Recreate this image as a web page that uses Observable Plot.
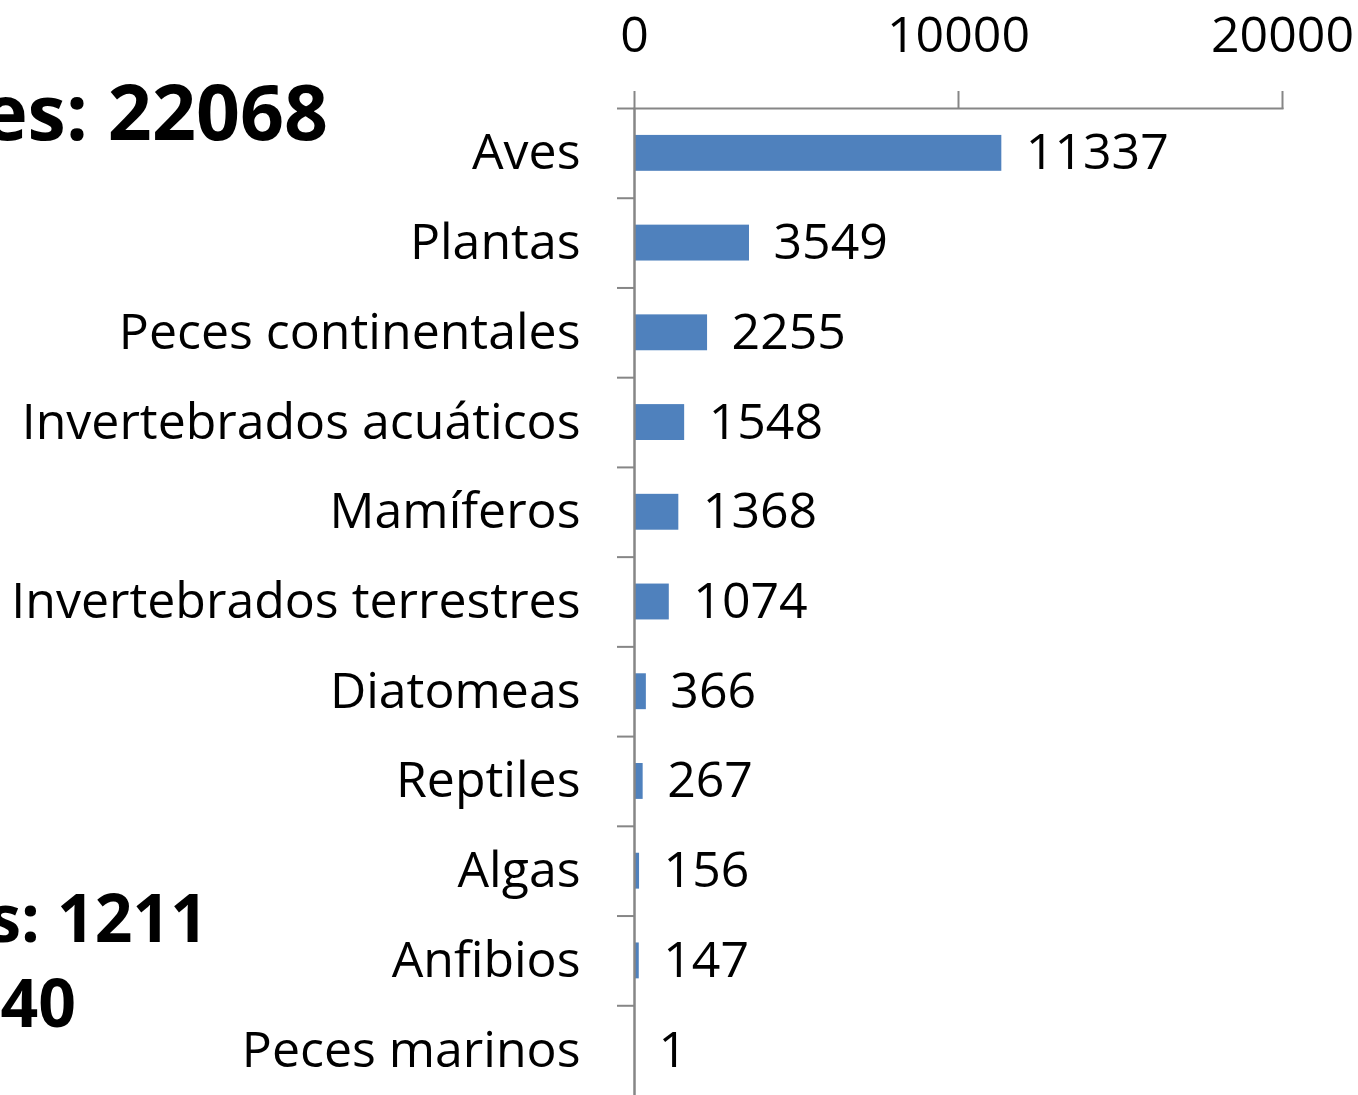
<!DOCTYPE html>
<html>
<head>
<meta charset="utf-8">
<script src="https://cdn.jsdelivr.net/npm/d3@7"></script>
<script src="https://cdn.jsdelivr.net/npm/@observablehq/plot@0.6"></script>
<style>
  html, body { margin: 0; padding: 0; background: #fff; overflow: hidden; }
  #chart { position: relative; width: 1358px; height: 1095px; }
</style>
</head>
<body>
<div id="chart"></div>
<script>
const categories = ["Aves", "Plantas", "Peces continentales", "Invertebrados acuáticos", "Mamíferos", "Invertebrados terrestres", "Diatomeas", "Reptiles", "Algas", "Anfibios", "Peces marinos"];
const values = [11337, 3549, 2255, 1548, 1368, 1074, 366, 267, 156, 147, 1];
const xTicks = [0, 10000, 20000];
const sideNotes = ["es: 22068", "s: 1211", "40"];

const data = categories.map((c, i) => ({cat: c, value: values[i]}));

const W = 1358, H = 1095, mTop = 108, mBottom = 0, mLeft = 634, mRight = 76;
const step = (H - mTop - mBottom) / categories.length;
const axisGray = "#868686";

const chart = Plot.plot({
  width: W, height: H,
  marginTop: mTop, marginBottom: mBottom, marginLeft: mLeft, marginRight: mRight,
  style: {fontFamily: "'Open Sans', sans-serif", fontSize: "50px", color: "#000", background: "#fff"},
  x: {domain: [0, 20000]},
  y: {domain: categories, paddingInner: 0.6, paddingOuter: 0.3, round: false},
  marks: [
    Plot.barX(data, {x: "value", y: "cat", fill: "#4F81BD"}),
    Plot.frame({anchor: "top", stroke: axisGray, strokeWidth: 2}),
    Plot.ruleX([0], {stroke: axisGray, strokeWidth: 2.5}),
    Plot.axisX({anchor: "top", ticks: xTicks, tickSize: 18, tickPadding: 39, stroke: axisGray, strokeWidth: 2, fill: "#000", fontSize: 50, label: null, tickFormat: d => String(d)}),
    Plot.axisY({tickSize: 0, tickPadding: 54, fill: "#000", fontSize: 50, label: null}),
    Plot.axisY({tickSize: 17, dy: -step / 2, stroke: axisGray, strokeWidth: 2, tickFormat: () => "", label: null}),
    Plot.text(data, {x: "value", y: "cat", text: d => String(d.value), textAnchor: "start", dx: 24, fontSize: 50, fill: "#000"})
  ]
});

document.getElementById("chart").appendChild(chart);

const svg = d3.select(chart);
const notes = [
  {t: sideNotes[0], x: 328, y: 140, s: 77},
  {t: sideNotes[1], x: 208, y: 942, s: 66},
  {t: sideNotes[2], x: 76, y: 1027, s: 66}
];
svg.append("g").selectAll("text").data(notes).join("text")
  .attr("x", d => d.x).attr("y", d => d.y)
  .attr("text-anchor", "end")
  .attr("font-family", "'Open Sans', sans-serif")
  .attr("font-weight", "bold")
  .attr("font-size", d => d.s)
  .attr("fill", "#000")
  .text(d => d.t);
</script>
</body>
</html>
